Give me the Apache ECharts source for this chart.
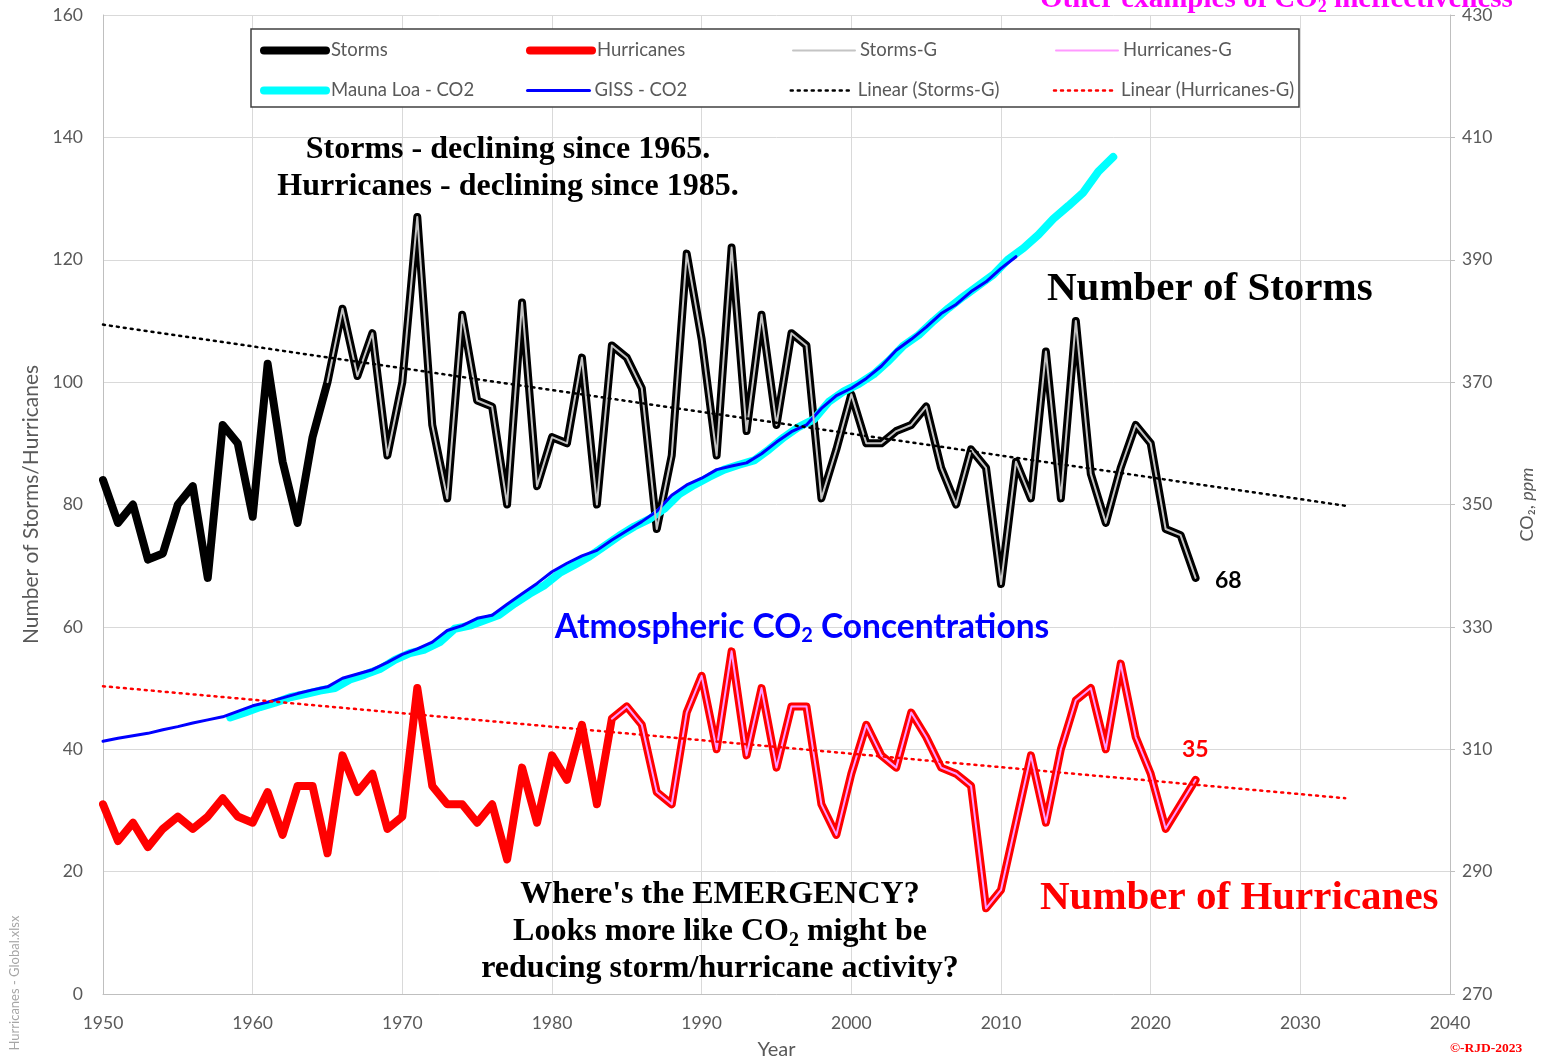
<!DOCTYPE html>
<html>
<head>
<meta charset="utf-8">
<title>Storms / Hurricanes vs CO2</title>
<script src="https://cdn.jsdelivr.net/npm/echarts@6/dist/echarts.min.js"></script>
<style>
  html, body { margin: 0; padding: 0; background: #fff; }
  #chart { width: 1547px; height: 1061px; }
</style>
</head>
<body>
<div id="chart"></div>
<script>
// 数据
const firstYear = 1950

// 全球风暴数 1950-2023
const storms = [
  84, 77, 80, 71, 72, 80, 83, 68, 93, 90,
  78, 103, 87, 77, 91, 100, 112, 101, 108, 88,
  100, 127, 93, 81, 111, 97, 96, 80, 113, 83,
  91, 90, 104, 80, 106, 104, 99, 76, 88, 121,
  107, 88, 122, 92, 111, 93, 108, 106, 81, 89,
  98, 90, 90, 92, 93, 96, 86, 80, 89, 86,
  67, 87, 81, 105, 81, 110, 85, 77, 86, 93,
  90, 76, 75, 68
]

// 全球飓风数 1950-2023
const hurricanes = [
  31, 25, 28, 24, 27, 29, 27, 29, 32, 29,
  28, 33, 26, 34, 34, 23, 39, 33, 36, 27,
  29, 50, 34, 31, 31, 28, 31, 22, 37, 28,
  39, 35, 44, 31, 45, 47, 44, 33, 31, 46,
  52, 40, 56, 39, 50, 37, 47, 47, 31, 26,
  36, 44, 39, 37, 46, 42, 37, 36, 34, 14,
  17, 28, 39, 28, 40, 48, 50, 40, 54, 42,
  36, 27, 31, 35
]

// "-G" 系列的起始年份
const stormsGStart = 1965
const hurricanesGStart = 1984

// Mauna Loa CO2 (ppm)，1958-2017 年均值
const maunaLoaStart = 1958
const maunaLoa = [
  315.2, 316.0, 316.9, 317.6, 318.5, 319.0, 319.6, 320.0, 321.4, 322.2,
  323.1, 324.6, 325.7, 326.3, 327.5, 329.7, 330.2, 331.1, 332.0, 333.8,
  335.4, 336.8, 338.8, 340.1, 341.5, 343.2, 344.9, 346.4, 347.6, 349.3,
  351.7, 353.2, 354.5, 355.7, 356.5, 357.2, 359.0, 361.0, 362.7, 363.9,
  366.8, 368.5, 369.7, 371.3, 373.5, 376.0, 377.7, 380.0, 382.1, 384.0,
  385.8, 387.6, 390.1, 391.9, 394.1, 396.7, 398.8, 401.0, 404.4, 406.8
]

// GISS CO2 (ppm)，1950-2011
const giss = [
  311.3, 311.8, 312.2, 312.6, 313.2, 313.7, 314.3, 314.8, 315.3, 316.2,
  317.1, 317.7, 318.4, 319.1, 319.7, 320.2, 321.6, 322.3, 323.0, 324.2,
  325.5, 326.4, 327.5, 329.4, 330.2, 331.4, 331.9, 333.7, 335.4, 337.1,
  339.0, 340.4, 341.6, 342.5, 344.2, 345.7, 347.2, 348.9, 351.5, 353.2,
  354.3, 355.7, 356.3, 356.8, 358.3, 360.2, 361.9, 363.0, 365.7, 367.8,
  369.0, 370.6, 372.6, 375.2, 377.0, 379.0, 381.2, 382.7, 384.8, 386.4,
  388.6, 390.5
]

// 趋势线端点 [年份, 值]
const stormsTrend = [[1950, 109.4], [2033, 79.8]]
const hurricanesTrend = [[1950, 50.3], [2033, 32.0]]

// 坐标轴
const xTicks = { min: 1950, max: 2040, step: 10 }
const leftTicks = { min: 0, max: 160, step: 20 }
const rightTicks = { min: 270, max: 430, step: 20 }

const toPairs = (arr, start, offset = 0) => arr.map((v, i) => [start + i + offset, v])
const fromYear = (arr, year) => toPairs(arr, firstYear).filter(p => p[0] >= year)

const sans = 'Lato, "Noto Sans", sans-serif'
const serif = '"Liberation Serif", "DejaVu Serif", serif'
const gray = '#595959'

const lineSeries = (name, data, color, width, extra = {}) => Object.assign({
  name: name,
  type: 'line',
  data: data,
  symbol: 'none',
  silent: true,
  lineStyle: { color: color, width: width, join: 'round', cap: 'round' },
  itemStyle: { color: color },
  emphasis: { disabled: true }
}, extra)

const legendBase = {
  left: 255,
  itemWidth: 62,
  itemHeight: 14,
  itemGap: 5,
  selectedMode: false,
  itemStyle: { opacity: 0 },
  lineStyle: { width: 'inherit' },
  textStyle: { fontFamily: sans, fontSize: 18.5, color: gray, width: 190, lineHeight: 16 }
}

const chart = echarts.init(document.getElementById('chart'))

const option = {
  animation: false,
  backgroundColor: '#fff',
  grid: { left: 103, right: 97, top: 15, bottom: 67, outerBoundsMode: 'none' },
  legend: [
    Object.assign({}, legendBase, { top: 36, data: ['Storms', 'Hurricanes', 'Storms-G', 'Hurricanes-G'] }),
    Object.assign({}, legendBase, { top: 76, data: ['Mauna Loa - CO2', 'GISS - CO2', 'Linear (Storms-G)', 'Linear (Hurricanes-G)'] })
  ],
  xAxis: {
    type: 'value',
    min: xTicks.min,
    max: xTicks.max,
    interval: xTicks.step,
    axisLine: { show: true, lineStyle: { color: '#bfbfbf' } },
    axisTick: { show: false },
    axisLabel: { color: gray, fontFamily: sans, fontSize: 17.5, margin: 20, formatter: v => String(v) },
    splitLine: { show: true, lineStyle: { color: '#d9d9d9' } },
    name: 'Year',
    nameLocation: 'middle',
    nameGap: 46,
    nameTextStyle: { color: gray, fontFamily: sans, fontSize: 20 }
  },
  yAxis: [
    {
      type: 'value',
      position: 'left',
      min: leftTicks.min,
      max: leftTicks.max,
      interval: leftTicks.step,
      axisLine: { show: true, lineStyle: { color: '#bfbfbf' } },
      axisTick: { show: false },
      axisLabel: { color: gray, fontFamily: sans, fontSize: 17.5, margin: 20 },
      splitLine: { show: true, lineStyle: { color: '#d9d9d9' } },
      name: 'Number of Storms/Hurricanes',
      nameLocation: 'middle',
      nameRotate: 90,
      nameGap: 60,
      nameTextStyle: { color: gray, fontFamily: sans, fontSize: 21 }
    },
    {
      type: 'value',
      position: 'right',
      min: rightTicks.min,
      max: rightTicks.max,
      interval: rightTicks.step,
      axisLine: { show: true, lineStyle: { color: '#bfbfbf' } },
      axisTick: { show: true, length: 5, lineStyle: { color: '#bfbfbf' } },
      axisLabel: { color: gray, fontFamily: sans, fontSize: 17.5, margin: 12 },
      splitLine: { show: false },
      name: '{n|CO₂, }{i|ppm}',
      nameLocation: 'middle',
      nameRotate: 90,
      nameGap: 68,
      nameTextStyle: {
        color: gray,
        rich: {
          n: { fontFamily: sans, fontSize: 18, color: gray },
          i: { fontFamily: sans, fontSize: 18, color: gray, fontStyle: 'italic' }
        }
      }
    }
  ],
  series: [
    lineSeries('Storms', toPairs(storms, firstYear), '#000000', 8, { z: 2 }),
    lineSeries('Hurricanes', toPairs(hurricanes, firstYear), '#ff0000', 8, { z: 2 }),
    lineSeries('Mauna Loa - CO2', toPairs(maunaLoa, maunaLoaStart, 0.5), '#00ffff', 8, { yAxisIndex: 1, z: 3 }),
    lineSeries('GISS - CO2', toPairs(giss, firstYear), '#0000ff', 3, { yAxisIndex: 1, z: 3 }),
    lineSeries('Storms-G', fromYear(storms, stormsGStart), '#c4c4c4', 2, { z: 4 }),
    lineSeries('Hurricanes-G', fromYear(hurricanes, hurricanesGStart), '#ff99ff', 2, { z: 4 }),
    lineSeries('Linear (Storms-G)', stormsTrend, '#000000', 2.5, {
      z: 5, lineStyle: { color: '#000000', width: 2.5, type: [2, 5], cap: 'round' }
    }),
    lineSeries('Linear (Hurricanes-G)', hurricanesTrend, '#ff0000', 2.5, {
      z: 5, lineStyle: { color: '#ff0000', width: 2.5, type: [2, 5], cap: 'round' }
    })
  ],
  graphic: [
    // 图例边框
    {
      type: 'rect', z: 3,
      shape: { x: 251, y: 29, width: 1048, height: 78 },
      style: { fill: '#ffffff', stroke: '#404040', lineWidth: 1.5 }
    },
    // 顶部标题（被裁切）
    {
      type: 'text', z: 10, left: 1040, top: -15,
      style: {
        text: '{m|Other examples of CO}{s|2}{m| ineffectiveness}',
        rich: {
          m: { fontFamily: serif, fontWeight: 'bold', fontSize: 29, fill: '#ff00ff', lineHeight: 34 },
          s: { fontFamily: serif, fontWeight: 'bold', fontSize: 18, fill: '#ff00ff', lineHeight: 18, verticalAlign: 'bottom' }
        }
      }
    },
    {
      type: 'text', z: 10, x: 508, y: 168,
      style: {
        text: 'Storms - declining since 1965.\nHurricanes - declining since 1985.',
        fontFamily: serif, fontWeight: 'bold', fontSize: 32, lineHeight: 37,
        fill: '#000', align: 'center', verticalAlign: 'middle'
      }
    },
    {
      type: 'text', z: 10, x: 1047, y: 289,
      style: {
        text: 'Number of Storms',
        fontFamily: serif, fontWeight: 'bold', fontSize: 41,
        fill: '#000', align: 'left', verticalAlign: 'middle'
      }
    },
    {
      type: 'text', z: 10, x: 802, y: 627,
      style: {
        text: '{m|Atmospheric CO}{s|2}{m| Concentrations}',
        align: 'center', verticalAlign: 'middle',
        rich: {
          m: { fontFamily: sans, fontWeight: 'bold', fontSize: 33.5, fill: '#0000ff', lineHeight: 38 },
          s: { fontFamily: sans, fontWeight: 'bold', fontSize: 20, fill: '#0000ff', lineHeight: 17, verticalAlign: 'bottom' }
        }
      }
    },
    {
      type: 'text', z: 10, x: 1040, y: 898,
      style: {
        text: 'Number of Hurricanes',
        fontFamily: serif, fontWeight: 'bold', fontSize: 41,
        fill: '#ff0000', align: 'left', verticalAlign: 'middle'
      }
    },
    {
      type: 'text', z: 10, x: 720, y: 932,
      style: {
        text: "{m|Where's the EMERGENCY?}\n{m|Looks more like CO}{s|2}{m| might be}\n{m|reducing storm/hurricane activity?}",
        align: 'center', verticalAlign: 'middle',
        rich: {
          m: { fontFamily: serif, fontWeight: 'bold', fontSize: 32, fill: '#000', lineHeight: 37 },
          s: { fontFamily: serif, fontWeight: 'bold', fontSize: 20, fill: '#000', lineHeight: 18, verticalAlign: 'bottom' }
        }
      }
    },
    {
      type: 'text', z: 10, x: 1215, y: 581,
      style: { text: '68', fontFamily: sans, fontWeight: 'bold', fontSize: 23, fill: '#000', verticalAlign: 'middle' }
    },
    {
      type: 'text', z: 10, x: 1182, y: 750,
      style: { text: '35', fontFamily: sans, fontWeight: 'bold', fontSize: 23, fill: '#ff0000', verticalAlign: 'middle' }
    },
    {
      type: 'text', z: 10, x: 15, y: 983, rotation: Math.PI / 2,
      style: { text: 'Hurricanes - Global.xlsx', fontFamily: sans, fontSize: 13, fill: '#a6a6a6', align: 'center', verticalAlign: 'middle' }
    },
    {
      type: 'text', z: 10, x: 1450, y: 1049,
      style: { text: '©-RJD-2023', fontFamily: serif, fontWeight: 'bold', fontSize: 13.5, fill: '#ff0000', verticalAlign: 'middle' }
    }
  ]
}

chart.setOption(option)
</script>
</body>
</html>
